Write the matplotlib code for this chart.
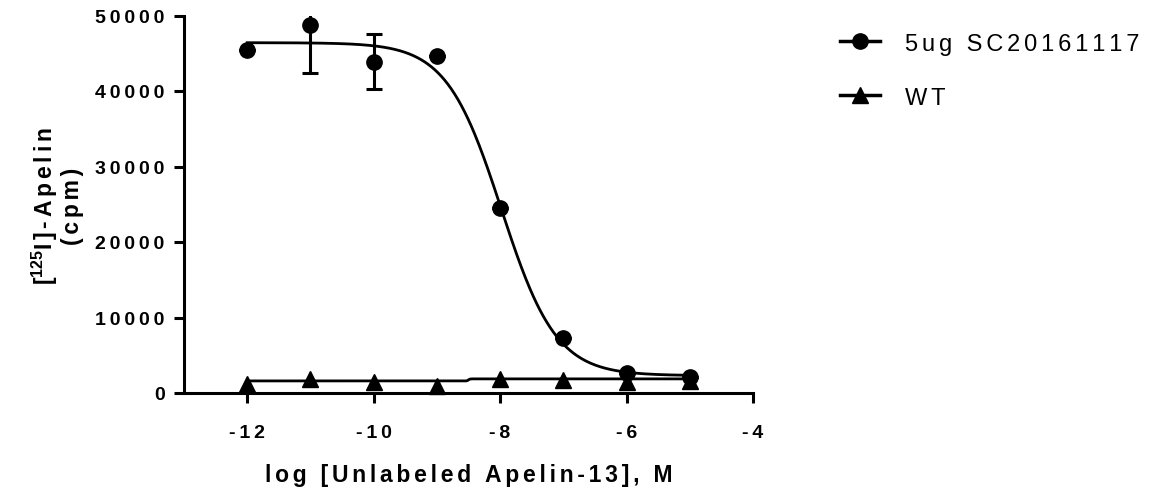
import numpy as np
import matplotlib
matplotlib.use("Agg")
import matplotlib.pyplot as plt
from matplotlib.lines import Line2D

plt.rcParams['font.family'] = ['Liberation Sans', 'DejaVu Sans']
plt.rcParams['mathtext.fontset'] = 'custom'
plt.rcParams['mathtext.rm'] = 'Liberation Sans'
plt.rcParams['mathtext.bf'] = 'Liberation Sans:bold'

# data
log_conc = [-12, -11, -10, -9, -8, -7, -6, -5]
sc_mean = [45400, 48700, 43900, 44700, 24500, 7300, 2650, 2150]
sc_err = [0, 6300, 3600, 0, 0, 0, 0, 0]
wt_mean = [1250, 1850, 1450, 900, 1850, 1700, 1450, 1550]

# fit parameters (one-site competition)
sc_top, sc_bottom, sc_logic50, sc_hill = 46400, 2300, -7.98, 1.0
wt_left, wt_right, wt_logec50, wt_hill = 1600, 1870, -8.5, 40.0

labels = ["5ug SC20161117", "WT"]
x_ticks = [-12, -10, -8, -6, -4]
y_ticks = [0, 10000, 20000, 30000, 40000, 50000]


def spaced(s, gap="\u2006"):
    # letter spacing like the original
    return gap.join(s)


def sigmoid(x, top, bottom, logx50, hill):
    return bottom + (top - bottom) / (1 + 10 ** ((x - logx50) * hill))


fig = plt.figure(figsize=(11.56, 4.89), dpi=100)
ax = fig.add_axes([184 / 1156, 1 - 394 / 489, (753 - 184) / 1156, (394 - 16.5) / 489])

xx = np.linspace(min(log_conc), max(log_conc), 400)
ax.plot(xx, sigmoid(xx, sc_top, sc_bottom, sc_logic50, sc_hill), color="black", lw=2.0, zorder=2)
ax.plot(xx, sigmoid(xx, wt_left, wt_right, wt_logec50, wt_hill), color="black", lw=2.0, zorder=2)

ax.errorbar(log_conc, sc_mean, yerr=sc_err, fmt="o", color="black", ms=11, lw=2.2,
            capsize=5.5, capthick=2.2, zorder=3)
ax.plot(log_conc, wt_mean, "^", color="black", ms=11, zorder=3, clip_on=False)

ax.set_xlim(-13, -4)
ax.set_ylim(0, 50000)
ax.set_xticks(x_ticks)
ax.set_xticklabels([spaced(str(t), "\u2009") for t in x_ticks])
ax.set_yticks(y_ticks)
ax.set_yticklabels([spaced(str(t), "\u2009") for t in y_ticks])

for s in ["top", "right"]:
    ax.spines[s].set_visible(False)
for s in ["left", "bottom"]:
    ax.spines[s].set_linewidth(2.2)
ax.tick_params(width=2.2, length=7, labelsize=14)
ax.tick_params(axis="x", pad=15.5)
ax.tick_params(axis="y", pad=7)
for lab in ax.get_xticklabels() + ax.get_yticklabels():
    lab.set_fontweight("bold")

ax.set_xlabel(spaced("log [Unlabeled Apelin-13], M"), fontsize=16.5, fontweight="bold", labelpad=16)
fig.text(57 / 1156, 1 - 206 / 489,
         r"[$^{\mathbf{125}}$" + spaced("I]-Apelin") + "\n" + spaced("(cpm)"),
         rotation=90, ha="center", va="center", multialignment="center",
         fontsize=16.5, fontweight="bold", linespacing=1.1)

handles = [
    Line2D([], [], color="black", lw=2.5, marker="o", ms=11),
    Line2D([], [], color="black", lw=2.5, marker="^", ms=11),
]
ax.legend(handles, [spaced(l) for l in labels], loc="upper left",
          bbox_to_anchor=(840 / 1156, 0.931), bbox_transform=fig.transFigure,
          frameon=False, fontsize=17, handlelength=1.7, handletextpad=1.05,
          labelspacing=1.35, borderpad=0, borderaxespad=0)

fig.savefig("out.png", dpi=100)
